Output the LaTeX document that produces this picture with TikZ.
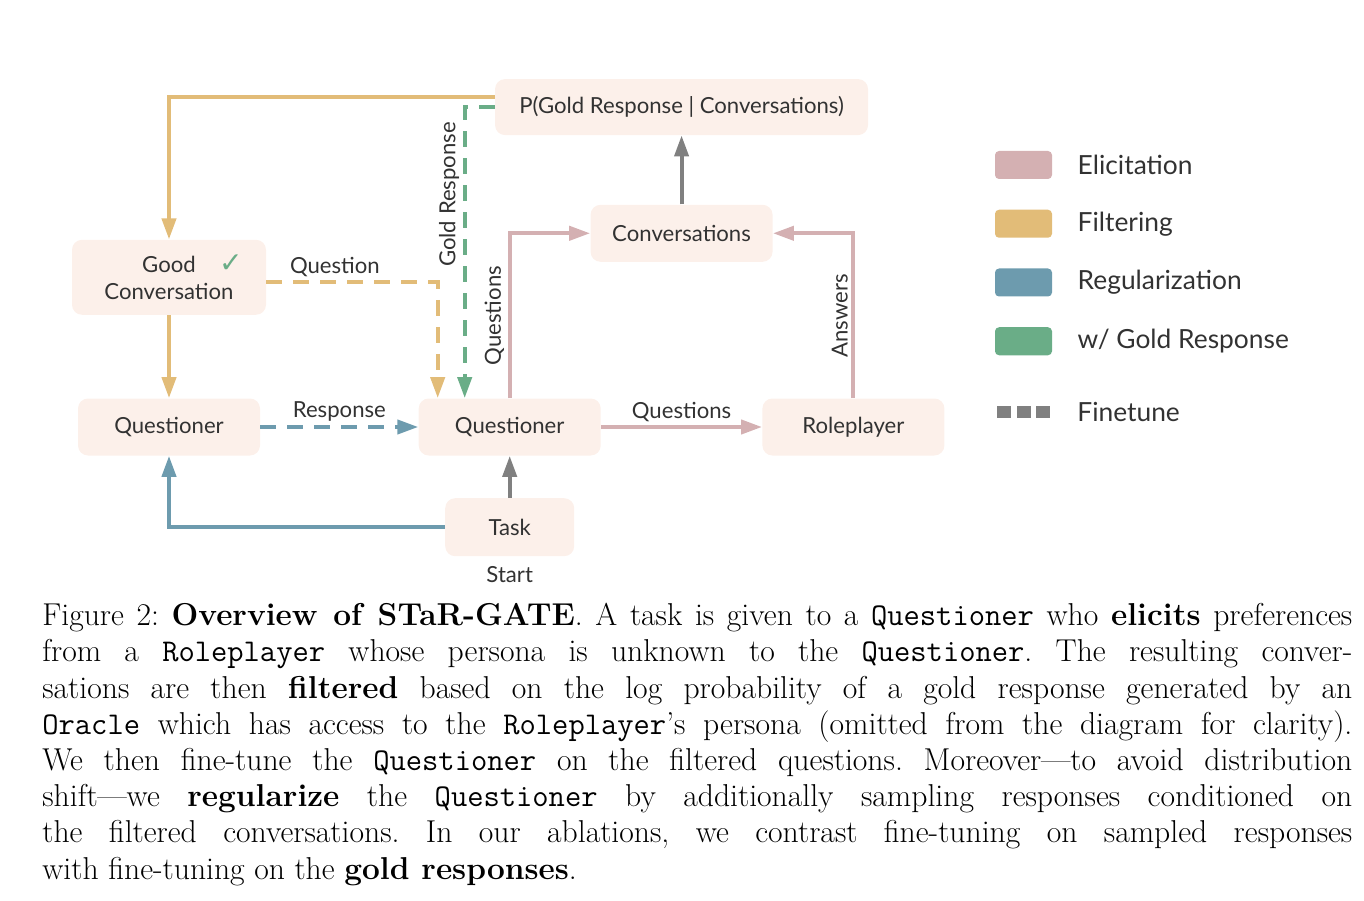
\documentclass[tikz,border=0pt]{standalone}
\usepackage{fontspec}
\usepackage{xcolor}
\usetikzlibrary{arrows.meta, positioning, calc}
\newfontfamily\diagfont{Lato}
\newfontfamily\symfont{DejaVu Sans}
\definecolor{boxfill}{RGB}{252,240,234}
\definecolor{txtgray}{RGB}{50,50,50}
\definecolor{elicitc}{RGB}{212,176,178}
\definecolor{filterc}{RGB}{226,188,120}
\definecolor{regc}{RGB}{109,155,174}
\definecolor{goldc}{RGB}{106,173,135}
\definecolor{tunec}{RGB}{128,128,128}

\begin{document}
\begin{tikzpicture}[
  box/.style={fill=boxfill, rounded corners=0.2cm, align=center, minimum width=3.64cm, minimum height=1.14cm, inner sep=2pt, text=txtgray, font=\diagfont\fontsize{12.6pt}{15.3pt}\selectfont},
  lbl/.style={text=txtgray, inner sep=2pt, font=\diagfont\fontsize{12.6pt}{14pt}\selectfont},
  arr/.style={-{Triangle[length=0.42cm, width=0.28cm]}, line width=0.08cm},
  fine/.style={dash pattern=on 0.32cm off 0.22cm},
  swatch/.style={rounded corners=0.08cm, minimum width=1.14cm, minimum height=0.56cm, inner sep=0pt},
  tunesq/.style={fill=tunec, minimum width=0.28cm, minimum height=0.24cm, inner sep=0pt},
  legtxt/.style={text=txtgray, inner sep=0pt, font=\diagfont\fontsize{15pt}{17pt}\selectfont},
  caption/.style={anchor=north west, inner sep=0pt, text width=26.2cm, align=justify, font=\fontsize{18pt}{20.6pt}\selectfont\frenchspacing}
]
\useasboundingbox (0,0) rectangle (27.28,-18.02);

% main flow
\node[box] (qleft) at (3.38,-8.54) {Questioner};
\node[box, right=3.16cm of qleft] (qmid) {Questioner};
\node[box, right=3.22cm of qmid] (role) {Roleplayer};
\node[box, minimum width=2.58cm, minimum height=1.16cm, below=0.84cm of qmid] (task) {Task};
\node[lbl, below=0.12cm of task] (start) {Start};
\node[box, minimum width=3.88cm, minimum height=1.5cm, above=1.66cm of qleft] (good) {Good\rlap{\hspace{1.05em}\textcolor{goldc}{\symfont\fontsize{16pt}{16pt}\selectfont ✓}}\\Conversation};
\coordinate (mid) at ($(qmid.north)!0.5!(role.north)$);
\node[box, above=2.72cm of mid] (conv) {Conversations};
\node[box, minimum width=7.46cm, minimum height=1.12cm, above=1.38cm of conv] (gold) {P(Gold Response | Conversations)};

% filtering
\draw[arr, filterc] ([yshift=0.2cm]gold.west) -| (good.north);
\draw[arr, filterc] (good) -- (qleft);
\draw[arr, filterc, fine] ([yshift=-0.1cm]good.east) -| ([xshift=-1.44cm]qmid.north)
  node[lbl, pos=0.2, above] {Question};
\draw[arr, goldc, fine] (gold.west) -| ([xshift=-0.9cm]qmid.north)
  node[lbl, pos=0.65, rotate=90, above] {Gold Response};

% elicitation
\draw[arr, elicitc] (qmid.north) |- (conv.west)
  node[lbl, pos=0.25, rotate=90, above] {Questions};
\draw[arr, elicitc] (qmid) -- (role) node[lbl, midway, above] {Questions};
\draw[arr, elicitc] (role.north) |- (conv.east)
  node[lbl, pos=0.25, rotate=90, above] {Answers};
\draw[arr, tunec] (conv) -- (gold);
\draw[arr, tunec] (task) -- (qmid);

% regularization
\draw[arr, regc] (task.west) -| (qleft.south);
\draw[arr, regc, fine] (qleft) -- (qmid) node[lbl, midway, above] {Response};

% legend
\foreach \c/\t [count=\i] in {elicitc/Elicitation, filterc/Filtering, regc/Regularization, goldc/{w/ Gold Response}} {
  \node[swatch, fill=\c] (sw\i) at (20.47,{-3.30-1.175*(\i-1)}) {};
  \node[legtxt, right=0.5cm of sw\i] (lt\i) {\t};
}
\foreach \k in {0,1,2}
  \node[tunesq] (ft\k) at ({20.08+0.39*\k},-8.24) {};
\node[legtxt, anchor=west] (ftl) at (21.54,-8.24) {Finetune};

% caption
\node[caption] (cap) at (0.84,-12.06) {Figure 2: \textbf{Overview of STaR-GATE}. A task is given to a \texttt{Questioner} who \textbf{elicits} preferences\linebreak
from a \texttt{Roleplayer} whose persona is unknown to the \texttt{Questioner}. The resulting conver-\linebreak
sations are then \textbf{filtered} based on the log probability of a gold response generated by an\linebreak
\texttt{Oracle} which has access to the \texttt{Roleplayer}’s persona (omitted from the diagram for clarity).\linebreak
We then fine-tune the \texttt{Questioner} on the filtered questions. Moreover—to avoid distribution\linebreak
shift—we \textbf{regularize} the \texttt{Questioner} by additionally sampling responses conditioned on\linebreak
the filtered conversations. In our ablations, we contrast fine-tuning on sampled responses\linebreak
with fine-tuning on the \textbf{gold responses}.};
\end{tikzpicture}
\end{document}
